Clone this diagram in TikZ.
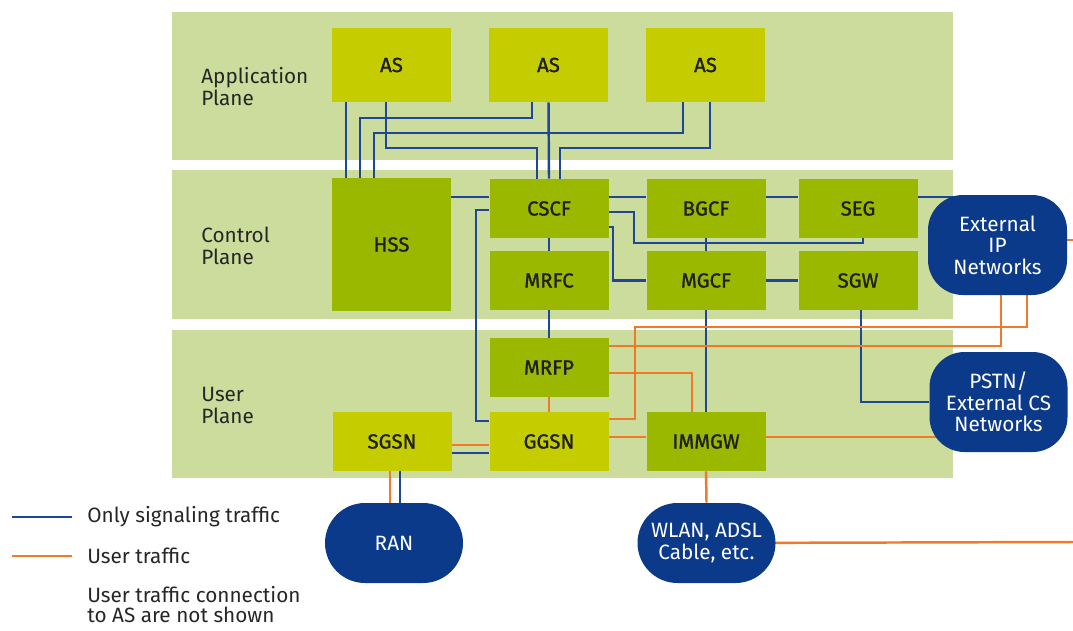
\documentclass[tikz,border=0pt]{standalone}
\usepackage{fontspec}
\setmainfont{Fira Sans}
\newfontfamily\boxfont[FakeBold=1.2]{Fira Sans}

\definecolor{planegreen}{RGB}{204,220,156}
\definecolor{asgreen}{RGB}{197,205,0}
\definecolor{ctrlgreen}{RGB}{154,184,0}
\definecolor{netblue}{RGB}{12,58,138}
\definecolor{sigblue}{RGB}{30,72,150}
\definecolor{useorange}{RGB}{240,122,40}

\pgfdeclarelayer{bands}
\pgfdeclarelayer{wires}
\pgfsetlayers{bands,wires,main}

\begin{document}
\begin{tikzpicture}[node distance=3.14cm, font=\fontsize{11.8}{12.5}\selectfont,
    sig/.style={draw=sigblue, line width=1.4pt},
    usr/.style={draw=useorange, line width=1.4pt}]
      \tikzstyle{box}=[rectangle, minimum width=2.38cm, minimum height=1.18cm, inner sep=0pt, text=black!88,
                       font=\boxfont\fontsize{11.6}{12}\selectfont]
      \tikzstyle{appbox}=[box, fill=asgreen, minimum height=1.48cm]
      \tikzstyle{ctrlbox}=[box, fill=ctrlgreen]
      \tikzstyle{gwbox}=[box, fill=asgreen]
      \tikzstyle{network}=[rectangle, rounded corners=0.7cm, fill=netblue, text=white, align=center,
                           minimum width=2.76cm, minimum height=2cm, inner sep=0pt,
                           font=\fontsize{11.8}{12.2}\selectfont]
      \tikzstyle{lbl}=[anchor=west, align=left, inner sep=0pt, text=black!85]

      \useasboundingbox (0,0) rectangle (21.46,12.6);

      % the three planes
      \begin{pgfonlayer}{bands}
        \fill[planegreen] (3.44,9.40) rectangle (19.06,12.36);
        \fill[planegreen] (3.44,6.22) rectangle (19.06,9.20);
        \fill[planegreen] (3.44,3.04) rectangle (19.06,6.00);
      \end{pgfonlayer}

      \node[lbl] (applbl)  at (4.02,10.86) {Application\\Plane};
      \node[lbl] (ctrllbl) at (4.02,7.68)  {Control\\Plane};
      \node[lbl] (userlbl) at (4.02,4.50)  {User\\Plane};

      % application servers
      \node[appbox]  (AS1)                   at (7.83,11.30)        {AS};
      \node[appbox]  (AS2)   [right of=AS1]                         {AS};
      \node[appbox]  (AS3)   [right of=AS2]                         {AS};

      % control plane
      \node[ctrlbox, minimum height=2.66cm] (HSS) at (7.83,7.71)   {HSS};
      \node[ctrlbox] (CSCF)                  at (10.98,8.43)        {CSCF};
      \node[ctrlbox] (BGCF)  [right of=CSCF]                        {BGCF};
      \node[ctrlbox] (SEG)   [right of=BGCF, node distance=3.04cm]  {SEG};
      \node[ctrlbox] (MRFC)  [below of=CSCF, node distance=1.44cm]  {MRFC};
      \node[ctrlbox] (MGCF)  [right of=MRFC]                        {MGCF};
      \node[ctrlbox] (SGW)   [right of=MGCF, node distance=3.04cm]  {SGW};

      % user plane
      \node[ctrlbox] (MRFP)  [below of=MRFC, node distance=1.74cm]  {MRFP};
      \node[gwbox]   (GGSN)  [below of=MRFP, node distance=1.48cm]  {GGSN};
      \node[gwbox]   (SGSN)  [left of=GGSN]                         {SGSN};
      \node[ctrlbox] (IMMGW) [right of=GGSN]                        {IMMGW};

      % outside networks
      \node[network, minimum width=2.78cm] (ExtIP) at (19.95,7.70) {External\\IP\\Networks};
      \node[network] (PSTN) at (19.97,4.56) {PSTN/\\External CS\\Networks};
      \node[network, minimum height=1.6cm, rounded corners=0.8cm] (RAN)  at (7.88,1.74)  {RAN};
      \node[network, minimum height=1.6cm, rounded corners=0.8cm] (WLAN) at (14.13,1.74) {WLAN, ADSL\\Cable, etc.};

      \coordinate (ipout)   at (21.46,7.80);
      \coordinate (wlanout) at (21.46,1.76);

      \begin{pgfonlayer}{wires}
        % signaling
        \draw[sig] (AS1.south -| 6.92,0) -- (HSS.north -| 6.92,0);
        \draw[sig] (AS2.south -| 10.64,0) |- (7.20,10.24) -- (HSS.north -| 7.20,0);
        \draw[sig] (AS3.south -| 13.66,0) |- (7.48,9.94) -- (HSS.north -| 7.48,0);
        \draw[sig] (AS1.south -| 7.72,0) |- (10.74,9.64) -- (CSCF.north -| 10.74,0);
        \draw[sig] (AS2.south) -- (CSCF.north);
        \draw[sig] (AS3.south -| 14.20,0) |- (11.20,9.64) -- (CSCF.north -| 11.20,0);
        \draw[sig] (HSS.east |- 0,8.66) -- (CSCF.west |- 0,8.66);
        \draw[sig] (CSCF.east |- 0,8.66) -- (BGCF.west |- 0,8.66);
        \draw[sig] (BGCF.east |- 0,8.66) -- (SEG.west |- 0,8.66);
        \draw[sig] (SEG.east |- 0,8.66) -- (ExtIP.center |- 0,8.66);
        \draw[sig] (CSCF.east |- 0,8.36) -| (12.68,7.74) -| (SEG.south -| 17.26,0);
        \draw[sig] (BGCF.south) -- (MGCF.north);
        \draw[sig] (CSCF.east |- 0,8.06) -| (MGCF.west -| 12.26,0) -- (MGCF.west);
        \draw[sig] (MGCF.east) -- (SGW.west);
        \draw[sig] (CSCF.south) -- (MRFC.north);
        \draw[sig] (CSCF.west |- 0,8.40) -| (9.52,4.18) -- (GGSN.west |- 0,4.18);
        \draw[sig] (MRFC.south) -- (MRFP.north);
        \draw[sig] (MGCF.south) -- (IMMGW.north);
        \draw[sig] (SGW.south -| 17.22,0) |- (PSTN.west);
        \draw[sig] (SGSN.east |- 0,3.54) -- (GGSN.west |- 0,3.54);
        \draw[sig] (SGSN.south -| 8.00,0) -- (RAN.north -| 8.00,0);

        % user traffic
        \draw[usr] (SGSN.east |- 0,3.70) -- (GGSN.west |- 0,3.70);
        \draw[usr] (SGSN.south -| 7.80,0) -- (RAN.north -| 7.80,0);
        \draw[usr] (MRFP.south) -- (GGSN.north);
        \draw[usr] (GGSN.east |- 0,3.86) -- (IMMGW.west |- 0,3.86);
        \draw[usr] (IMMGW.east |- 0,3.86) -- (PSTN.center |- 0,3.86);
        \draw[usr] (MRFP.east |- 0,5.68) -| (ExtIP.south -| 20.02,0);
        \draw[usr] (MRFP.east |- 0,5.14) -| (IMMGW.north -| 13.84,0);
        \draw[usr] (GGSN.east |- 0,4.22) -| (12.70,6.06) -| (ExtIP.south -| 20.54,0);
        \draw[usr] (ExtIP.center |- ipout) -- (ipout);
        \draw[usr] (IMMGW.south) -- (WLAN.north);
        \draw[usr] (WLAN.center) -- (wlanout);
      \end{pgfonlayer}

      % legend
      \coordinate (siga) at (0.24,2.26);
      \coordinate (sigb) at (1.44,2.26);
      \coordinate (usra) at (0.24,1.48);
      \coordinate (usrb) at (1.44,1.48);
      \draw[sig] (siga) -- (sigb);
      \draw[usr] (usra) -- (usrb);
      \node[lbl] (siglbl) at (1.74,2.26) {Only signaling traffic};
      \node[lbl] (usrlbl) at (1.74,1.48) {User traffic};
      \node[lbl, font=\fontsize{11.8}{11.4}\selectfont] (note) at (1.74,0.50)
           {User traffic connection\\to AS are not shown};
\end{tikzpicture}
\end{document}
